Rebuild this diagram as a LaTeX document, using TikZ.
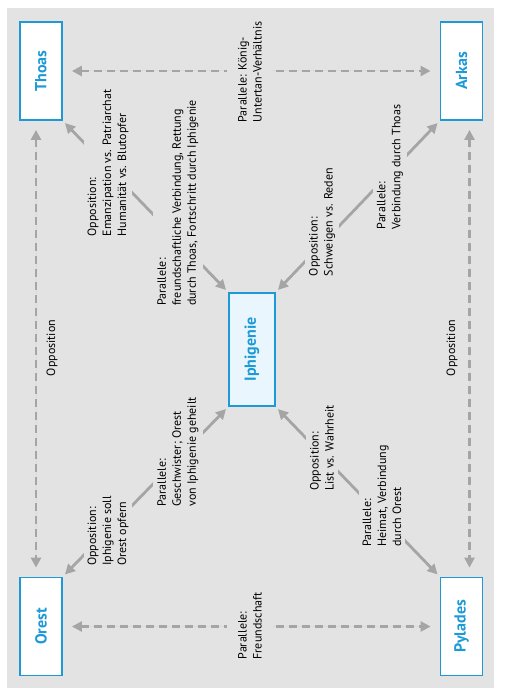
\documentclass[tikz,border=0pt]{standalone}
\usepackage{fontspec}
\setmainfont{PT Sans}
\usepackage{graphicx}
\usetikzlibrary{arrows.meta}
\definecolor{bggrey}{HTML}{E3E3E3}
\definecolor{frameblue}{HTML}{1D9AD6}
\definecolor{arrowgrey}{HTML}{A5A5A5}
\definecolor{iphfill}{HTML}{E9F6FD}

\begin{document}
\begin{tikzpicture}[
  x=1pt, y=-1pt,
  >={Triangle[length=10pt,width=10pt]},
  person/.style={draw=frameblue,line width=1.8pt,fill=white,minimum width=42pt,minimum height=98pt,inner sep=0,text=frameblue,font=\fontsize{16}{18}\selectfont\bfseries},
  link/.style={<->,draw=arrowgrey,fill=arrowgrey,line width=2.8pt,shorten >=3pt,shorten <=3pt},
  tie/.style={link,dash pattern=on 8pt off 5pt,shorten >=9pt,shorten <=9pt},
  note/.style={rotate=90,fill=bggrey,align=left,inner sep=4pt,font=\fontsize{12}{15}\selectfont}
  ]

  \useasboundingbox (0,0) rectangle (506,695);
  \fill[bggrey] (7,8) rectangle (494,688);

  \node [person] (thoas) at (41,71) {\rotatebox{90}{Thoas}};
  \node [person] (arkas) at (461.5,71) {\rotatebox{90}{Arkas}};
  \node [person] (orest) at (41,626.5) {\rotatebox{90}{Orest}};
  \node [person] (pylades) at (461.5,626.5) {\rotatebox{90}{Pylades}};
  \node [person,fill=iphfill,minimum width=46pt,minimum height=113pt] (iphigenie) at (252,349.5) {\rotatebox{90}{Iphigenie}};

  % outer frame
  \draw[tie] (thoas.east) -- (arkas.west);
  \draw[tie] (orest.east) -- (pylades.west);
  \draw[tie] ([xshift=-5pt]thoas.south) -- ([xshift=-5pt]orest.north);
  \draw[tie] ([xshift=8pt]arkas.south) -- ([xshift=8pt]pylades.north);

  % towards Iphigenie
  \draw[link] (thoas.south east) -- (iphigenie.north west);
  \draw[link] (arkas.south west) -- (iphigenie.north east);
  \draw[link] (orest.north east) -- (iphigenie.south west);
  \draw[link] (pylades.north west) -- (iphigenie.south east);

  \node [note,inner ysep=11pt] (koenig) at (250,72) {Parallele: König-\\Untertan-Verhältnis};
  \node [note,inner ysep=11pt] (freund) at (250,626) {Parallele:\\Freundschaft};
  \node [note] (oppleft) at (52,348) {Opposition};
  \node [note] (oppright) at (452,348) {Opposition};

  \node [note] (emanz) at (108,163) {Opposition:\\Emanzipation vs. Patriarchat\\Humanität vs. Blutopfer};
  \node [note] (rettung) at (178,203) {Parallele:\\freundschaftliche Verbindung, Rettung\\durch Thoas, Fortschritt durch Iphigenie};
  \node [note] (schweigen) at (322,222) {Opposition:\\Schweigen vs. Reden};
  \node [note] (verbthoas) at (390,167) {Parallele:\\Verbindung durch Thoas};
  \node [note] (opfern) at (108,531) {Opposition:\\Iphigenie soll\\Orest opfern};
  \node [note] (geschw) at (178,452) {Parallele:\\Geschwister; Orest\\von Iphigenie geheilt};
  \node [note] (list) at (322,448) {Opposition:\\List vs. Wahrheit};
  \node [note] (heimat) at (382,496) {Parallele:\\Heimat, Verbindung\\durch Orest};

\end{tikzpicture}
\end{document}
